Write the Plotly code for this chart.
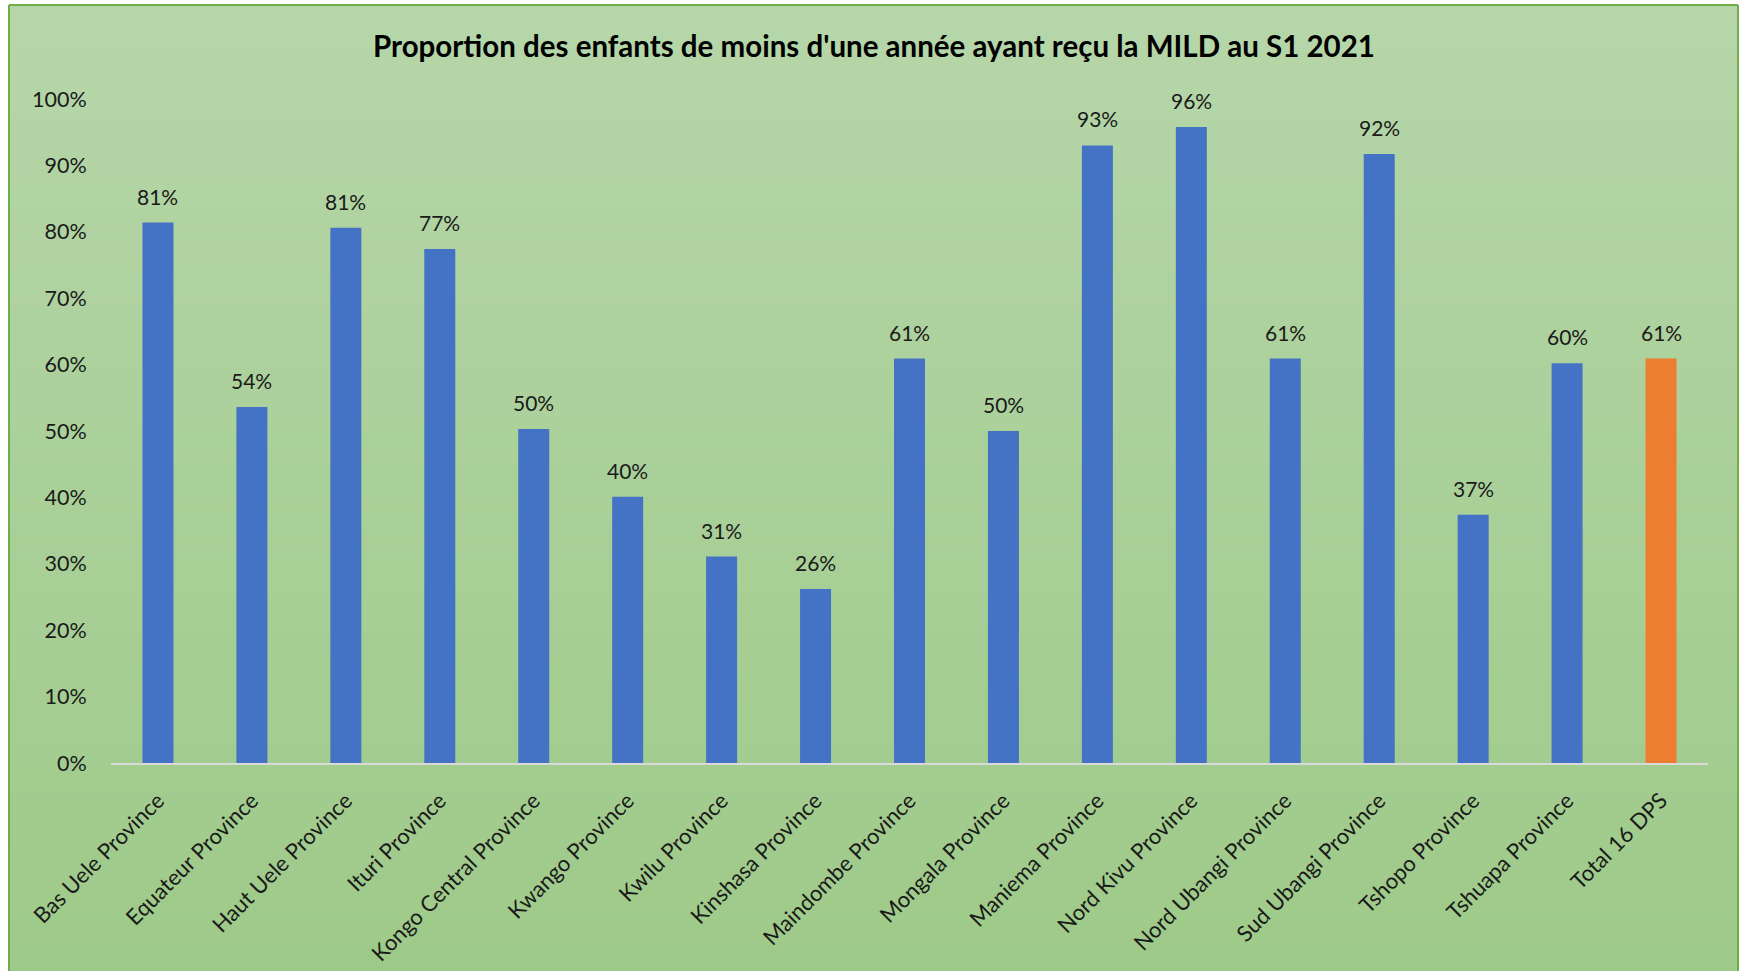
import plotly.graph_objects as go

# Provinces and proportion of children under one year who received an LLIN (S1 2021)
provinces = [
    "Bas Uele Province", "Equateur Province", "Haut Uele Province", "Ituri Province",
    "Kongo Central Province", "Kwango Province", "Kwilu Province", "Kinshasa Province",
    "Maindombe Province", "Mongala Province", "Maniema Province", "Nord Kivu Province",
    "Nord Ubangi Province", "Sud Ubangi Province", "Tshopo Province", "Tshuapa Province",
    "Total 16 DPS",
]
proportions = [
    0.814, 0.536, 0.806, 0.774, 0.503, 0.401, 0.311, 0.262,
    0.609, 0.500, 0.930, 0.958, 0.609, 0.917, 0.374, 0.602,
    0.609,
]
y_ticks = [0, 0.1, 0.2, 0.3, 0.4, 0.5, 0.6, 0.7, 0.8, 0.9, 1.0]

W, H = 1741, 971
L, R, T, B = 111, 33, 99, 208
PW, PH = W - L - R, H - T - B

BLUE = "#4472C4"
ORANGE = "#ED7D31"
FONT = "Lato"

colors = [ORANGE if p.startswith("Total") else BLUE for p in provinces]


def px_to_paper_x(px):
    return (px - L) / PW


def px_to_paper_y(py):
    return (H - B - py) / PH


fig = go.Figure()
fig.add_trace(go.Bar(
    x=provinces, y=proportions,
    marker=dict(color=colors, line=dict(width=0)),
    hovertemplate="%{x}: %{y:.0%}<extra></extra>",
))

# value labels above each bar
annotations = []
for p, v in zip(provinces, proportions):
    annotations.append(dict(
        x=p, y=v, xref="x", yref="y", text=f"{round(v * 100)}%",
        showarrow=False, yanchor="bottom", yshift=12,
        font=dict(family=FONT, size=21, color="#1a1a1a"),
    ))

# chart area background: vertical gradient drawn as thin bands
shapes = []
top_c = (182, 214, 169)
bot_c = (158, 202, 137)
x0p, x1p = 9, 1738
y0p, y1p = 5, H
n = 80
for i in range(n):
    t = i / (n - 1)
    c = tuple(round(a + (b - a) * t) for a, b in zip(top_c, bot_c))
    ya = y0p + (y1p - y0p) * i / n
    yb = y0p + (y1p - y0p) * (i + 1) / n + 1
    shapes.append(dict(
        type="rect", xref="paper", yref="paper", layer="below",
        x0=px_to_paper_x(x0p), x1=px_to_paper_x(x1p),
        y0=px_to_paper_y(yb), y1=px_to_paper_y(ya),
        fillcolor=f"rgb{c}", line=dict(width=0),
    ))
# chart border (left, top, right)
border = dict(color="#70AD47", width=2)
for (xa, ya, xb, yb) in [(9, 5, 9, H + 5), (9, 5, 1738, 5), (1738, 5, 1738, H + 5)]:
    shapes.append(dict(
        type="line", xref="paper", yref="paper", layer="above",
        x0=px_to_paper_x(xa), x1=px_to_paper_x(xb),
        y0=px_to_paper_y(ya), y1=px_to_paper_y(yb), line=border,
    ))

fig.update_layout(
    width=W, height=H,
    margin=dict(l=L, r=R, t=T, b=B, autoexpand=False),
    paper_bgcolor="white",
    plot_bgcolor="rgba(0,0,0,0)",
    bargap=0.67,
    showlegend=False,
    title=dict(
        text="<b>Proportion des enfants de moins d'une année ayant reçu la MILD au S1 2021</b>",
        x=874 / W, xanchor="center", xref="container",
        y=1 - 47 / H, yanchor="middle", yref="container",
        font=dict(family=FONT, size=29.5, color="#000000"),
    ),
    xaxis=dict(
        showline=True, linecolor="#D9D9D9", linewidth=2,
        showgrid=False, zeroline=False,
        ticks="outside", ticklen=14, tickcolor="rgba(0,0,0,0)",
        tickangle=-45,
        tickfont=dict(family=FONT, size=22, color="#1a1a1a"),
        fixedrange=True,
    ),
    yaxis=dict(
        range=[0, 1], tickvals=y_ticks, tickformat=".0%",
        showgrid=False, zeroline=False, showline=False,
        ticks="outside", ticklen=19, tickcolor="rgba(0,0,0,0)",
        tickfont=dict(family=FONT, size=21.5, color="#1a1a1a"),
        fixedrange=True,
    ),
    annotations=annotations,
    shapes=shapes,
)

fig.write_html("out.html")
